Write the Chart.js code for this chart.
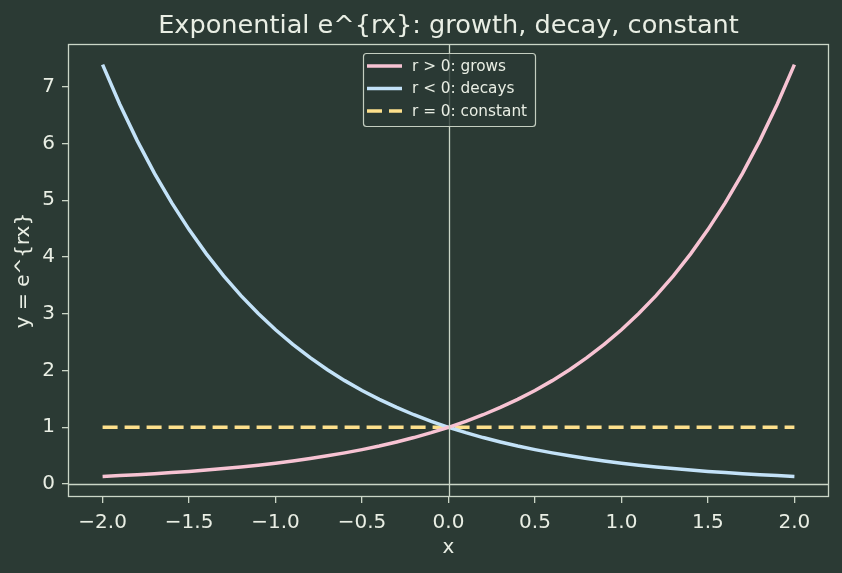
<!DOCTYPE html>
<html>
<head>
<meta charset="utf-8">
<script src="https://cdn.jsdelivr.net/npm/chart.js@4.4.1/dist/chart.umd.min.js"></script>
<style>
  html, body { margin: 0; padding: 0; background: #2b3a34; }
  #wrap { width: 842px; height: 573px; }
</style>
</head>
<body>
<div id="wrap"><canvas id="expChart"></canvas></div>
<script>
const xValues = [-2.0, -1.9, -1.8, -1.7, -1.6, -1.5, -1.4, -1.3, -1.2, -1.1, -1.0, -0.9, -0.8, -0.7, -0.6, -0.5, -0.4, -0.3, -0.2, -0.1,
  0.0, 0.1, 0.2, 0.3, 0.4, 0.5, 0.6, 0.7, 0.8, 0.9, 1.0, 1.1, 1.2, 1.3, 1.4, 1.5, 1.6, 1.7, 1.8, 1.9, 2.0];
const growValues = [0.135, 0.150, 0.165, 0.183, 0.202, 0.223, 0.247, 0.273, 0.301, 0.333, 0.368, 0.407, 0.449, 0.497, 0.549, 0.607, 0.670, 0.741, 0.819, 0.905,
  1.000, 1.105, 1.221, 1.350, 1.492, 1.649, 1.822, 2.014, 2.226, 2.460, 2.718, 3.004, 3.320, 3.669, 4.055, 4.482, 4.953, 5.474, 6.050, 6.686, 7.389];
const decayValues = [7.389, 6.686, 6.050, 5.474, 4.953, 4.482, 4.055, 3.669, 3.320, 3.004, 2.718, 2.460, 2.226, 2.014, 1.822, 1.649, 1.492, 1.350, 1.221, 1.105,
  1.000, 0.905, 0.819, 0.741, 0.670, 0.607, 0.549, 0.497, 0.449, 0.407, 0.368, 0.333, 0.301, 0.273, 0.247, 0.223, 0.202, 0.183, 0.165, 0.150, 0.135];
const constValues = [1, 1];
const constX = [-2.0, 2.0];
const seriesLabels = ['r > 0: grows', 'r < 0: decays', 'r = 0: constant'];
const xTicks = [-2.0, -1.5, -1.0, -0.5, 0.0, 0.5, 1.0, 1.5, 2.0];
const yTicks = [0, 1, 2, 3, 4, 5, 6, 7];
const titleText = 'Exponential e^{rx}: growth, decay, constant';

const BG = '#2b3a34';
const FG = '#e9eee4';
const FRAME = '#cbd6c7';
const FONT = "'DejaVu Sans', sans-serif";

const pts = (xs, ys) => xs.map((x, i) => ({ x: x, y: ys[i] }));
const minus = v => String(v).replace('-', '\u2212');

// title over the plot box, frame, zero lines and boxed legend the matplotlib way
const decor = {
    id: 'decor',
    beforeDraw(chart) {
        const c = chart.ctx;
        const a = chart.chartArea;
        c.save();
        c.fillStyle = BG;
        c.fillRect(0, 0, chart.width, chart.height);
        c.fillStyle = FG;
        c.font = '25.6px ' + FONT;
        c.textAlign = 'center';
        c.textBaseline = 'alphabetic';
        c.fillText(titleText, (a.left + a.right) / 2, 33);
        c.restore();
    },
    afterDatasetsDraw(chart) {
        const c = chart.ctx;
        const a = chart.chartArea;
        const xs = chart.scales.x, ys = chart.scales.y;
        c.save();
        c.strokeStyle = FRAME;
        c.lineWidth = 1.3;
        const x0 = Math.round(xs.getPixelForValue(0)) + 0.5;
        const y0 = Math.round(ys.getPixelForValue(0)) + 0.5;
        c.beginPath();
        c.moveTo(x0, a.top); c.lineTo(x0, a.bottom);
        c.moveTo(a.left, y0); c.lineTo(a.right, y0);
        c.stroke();
        c.strokeRect(a.left + 0.5, a.top + 0.5, a.right - a.left - 1, a.bottom - a.top - 1);

        // legend
        const bx = 363, by = 53, bw = 172, bh = 73;
        c.fillStyle = 'rgba(43,58,52,0.8)';
        c.strokeStyle = '#c4cec0';
        c.lineWidth = 1.2;
        c.beginPath();
        c.roundRect(bx + 0.5, by + 0.5, bw, bh, 3);
        c.fill();
        c.stroke();
        c.font = '15.3px ' + FONT;
        c.textBaseline = 'middle';
        c.textAlign = 'left';
        chart.data.datasets.forEach((ds, i) => {
            const ry = by + 13 + i * 22.5;
            c.strokeStyle = ds.borderColor;
            c.lineWidth = 3.5;
            c.setLineDash(ds.borderDash || []);
            c.beginPath();
            c.moveTo(367, ry); c.lineTo(402, ry);
            c.stroke();
            c.setLineDash([]);
            c.fillStyle = FG;
            c.fillText(ds.label, 412, ry + 1);
        });
        c.restore();
    }
};

new Chart(document.getElementById('expChart'), {
    type: 'scatter',
    data: {
        datasets: [
            { label: seriesLabels[0], data: pts(xValues, growValues), showLine: true, borderColor: '#f7c3d3', borderWidth: 3.5, pointRadius: 0 },
            { label: seriesLabels[1], data: pts(xValues, decayValues), showLine: true, borderColor: '#c3e2f8', borderWidth: 3.5, pointRadius: 0 },
            { label: seriesLabels[2], data: pts(constX, constValues), showLine: true, borderColor: '#fde08c', borderWidth: 3.5, borderDash: [15, 7], pointRadius: 0 }
        ]
    },
    options: {
        responsive: true,
        maintainAspectRatio: false,
        animation: false,
        layout: { padding: { left: 0, right: 13, top: 44, bottom: 0 } },
        plugins: {
            legend: { display: false },
            tooltip: { enabled: false },
            title: { display: false }
        },
        scales: {
            x: {
                type: 'linear',
                min: -2.2,
                max: 2.2,
                afterFit: s => { s.height = 76; },
                afterBuildTicks: s => { s.ticks = xTicks.map(v => ({ value: v })); },
                grid: { drawOnChartArea: false, drawTicks: true, tickLength: 6, color: FRAME, lineWidth: 1.3 },
                border: { display: false },
                ticks: { color: FG, font: { family: FONT, size: 20 }, padding: 8, maxRotation: 0,
                    callback: v => minus(v.toFixed(1)) },
                title: { display: true, text: 'x', color: FG, font: { family: FONT, size: 20 }, padding: { top: 0, bottom: 13 } }
            },
            y: {
                type: 'linear',
                min: -0.228,
                max: 7.752,
                afterFit: s => { s.width = 68; },
                afterBuildTicks: s => { s.ticks = yTicks.map(v => ({ value: v })); },
                grid: { drawOnChartArea: false, drawTicks: true, tickLength: 6, color: FRAME, lineWidth: 1.3 },
                border: { display: false },
                ticks: { color: FG, font: { family: FONT, size: 20 }, padding: 7, callback: v => minus(v) },
                title: { display: true, text: 'y = e^{rx}', color: FG, font: { family: FONT, size: 20 }, padding: { top: 12, bottom: 0 } }
            }
        }
    },
    plugins: [decor]
});
</script>
</body>
</html>
